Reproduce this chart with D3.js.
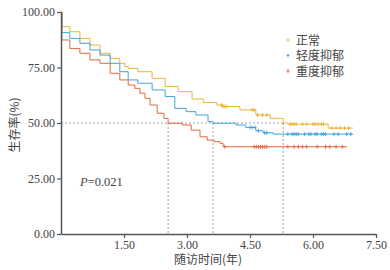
<!DOCTYPE html>
<html>
<head>
<meta charset="utf-8">
<script src="https://cdn.jsdelivr.net/npm/d3@7"></script>
<style>
  body { margin: 0; background: #fff; }
  svg { display: block; }
</style>
</head>
<body>
<svg id="chart" width="390" height="270"></svg>
<script>
// group names (legend order)
const groups = ["正常", "轻度抑郁", "重度抑郁"];
const colors = ["#E9B43C", "#41A2DE", "#E2683E"];

// KM steps: time (years) and survival (%)
const normalT = [0, 0.02, 0.21, 0.45, 0.69, 0.93, 1.17, 1.4, 1.52, 1.6, 1.83, 2.17, 2.48, 2.79, 3.12, 3.39, 3.71, 3.86, 4.26, 4.64, 4.98, 5.29, 5.4, 6.36, 6.95];
const normalS = [100, 93.4, 91.1, 88.1, 85.1, 81.4, 79.1, 76.9, 75.4, 74.6, 73.1, 70.1, 66.4, 64.1, 60.8, 59.2, 58.1, 57.4, 55.9, 53.6, 52.1, 50.0, 49.5, 47.7, 47.7];
const mildT = [0, 0.02, 0.21, 0.45, 0.69, 0.93, 1.17, 1.4, 1.6, 1.83, 2.17, 2.48, 2.71, 2.98, 3.21, 3.5, 3.62, 4.17, 4.4, 4.64, 4.81, 5.05, 6.95];
const mildS = [100, 90.7, 88.1, 85.9, 82.9, 80.6, 76.9, 73.1, 69.4, 67.9, 64.9, 61.9, 56.6, 55.1, 53.6, 50.6, 49.9, 49.1, 48.0, 46.5, 45.6, 45.0, 45.0];
const severeT = [0, 0.02, 0.21, 0.45, 0.69, 0.93, 1.17, 1.4, 1.6, 1.76, 1.88, 2.0, 2.12, 2.29, 2.45, 2.55, 2.88, 3.1, 3.31, 3.48, 3.64, 3.79, 3.86, 6.81];
const severeS = [100, 87.4, 83.6, 81.4, 78.4, 76.9, 72.4, 69.4, 67.1, 65.6, 63.4, 61.1, 58.1, 54.4, 52.1, 49.9, 49.1, 46.8, 43.8, 42.3, 41.6, 40.8, 39.3, 39.3];

// censored times
const normalC = [3.82, 3.86, 3.9, 3.95, 4.55, 4.6, 4.68, 4.8, 4.9, 5.45, 5.5, 5.55, 5.6, 5.75, 5.85, 6.0, 6.05, 6.12, 6.2, 6.25, 6.45, 6.55, 6.65, 6.75, 6.85];
const mildC = [4.5, 4.55, 4.62, 4.7, 4.85, 4.9, 5.4, 5.5, 5.55, 5.6, 5.65, 5.8, 5.9, 5.95, 6.05, 6.1, 6.2, 6.25, 6.3, 6.5, 6.6, 6.8, 6.9];
const severeC = [3.9, 4.6, 4.65, 4.7, 4.75, 4.8, 4.85, 4.9, 5.4, 5.55, 5.65, 5.75, 5.85, 6.1, 6.3, 6.4, 6.55, 6.7];

const medians = [5.29, 3.62, 2.55];

const xTicks = [1.5, 3.0, 4.5, 6.0, 7.5];
const yTicks = [0, 25, 50, 75, 100];

const series = [
  { t: normalT, s: normalS, c: normalC },
  { t: mildT, s: mildS, c: mildC },
  { t: severeT, s: severeS, c: severeC }
];

const svg = d3.select("#chart");
const x = d3.scaleLinear().domain([0, 7.5]).range([61, 376]);
const y = d3.scaleLinear().domain([0, 100]).range([234, 12]);

const serif = "'Liberation Serif', 'DejaVu Serif', serif";
const cjk = "'Noto Sans CJK SC', sans-serif";

// median reference lines
const g50 = svg.append("g").attr("stroke", "#888").attr("stroke-width", 0.8)
  .attr("stroke-dasharray", "2,2").attr("fill", "none");
g50.append("line").attr("x1", x(0)).attr("x2", x(d3.max(medians)))
  .attr("y1", y(50)).attr("y2", y(50));
medians.forEach(m => {
  g50.append("line").attr("x1", x(m)).attr("x2", x(m)).attr("y1", y(50)).attr("y2", y(0));
});

// survival curves
const line = d3.line().x(d => x(d[0])).y(d => y(d[1])).curve(d3.curveStepAfter);
series.forEach((sr, i) => {
  const pts = sr.t.map((t, k) => [t, sr.s[k]]);
  svg.append("path").datum(pts).attr("d", line)
    .attr("fill", "none").attr("stroke", colors[i]).attr("stroke-width", 1);

  // censor marks
  const survAt = t => {
    let v = sr.s[0];
    for (let k = 0; k < sr.t.length; k++) if (sr.t[k] <= t) v = sr.s[k];
    return v;
  };
  svg.append("g").selectAll("path").data(sr.c).join("path")
    .attr("d", t => `M${x(t)},${y(survAt(t)) - 2}v4M${x(t) - 1.5},${y(survAt(t))}h3`)
    .attr("stroke", colors[i]).attr("stroke-width", 0.9);
});

// axes
const yAxis = svg.append("g").attr("transform", `translate(${x(0)},0)`)
  .call(d3.axisLeft(y).tickValues(yTicks).tickFormat(d3.format(".2f")).tickSize(4).tickSizeOuter(0));
const xAxis = svg.append("g").attr("transform", `translate(0,${y(0)})`)
  .call(d3.axisBottom(x).tickValues(xTicks).tickFormat(d3.format(".2f")).tickSize(4).tickSizeOuter(0));
[yAxis, xAxis].forEach(a => {
  a.select(".domain").attr("stroke", "#555").attr("stroke-width", 1.5);
  a.selectAll(".tick line").attr("stroke", "#555").attr("stroke-width", 1.2);
  a.selectAll("text").attr("fill", "#444").style("font-family", serif).style("font-size", "12px");
});
yAxis.selectAll("text").attr("x", -6);
xAxis.selectAll("text").attr("y", 6);

// axis titles
svg.append("text").attr("transform", "translate(19,125) rotate(-90)")
  .attr("text-anchor", "middle").attr("fill", "#444")
  .style("font-family", cjk).style("font-size", "12px").text("生存率(%)");
svg.append("text").attr("x", 208).attr("y", 264).attr("text-anchor", "middle")
  .attr("fill", "#444").style("font-family", cjk).style("font-size", "12px").text("随访时间(年)");

// p value
const pt = svg.append("text").attr("x", 80).attr("y", 186).attr("fill", "#444")
  .style("font-family", serif).style("font-size", "12.5px");
pt.append("tspan").attr("font-style", "italic").text("P");
pt.append("tspan").text("=0.021");

// legend
const lg = svg.append("g");
groups.forEach((name, i) => {
  const yy = 40 + i * 15.5;
  lg.append("path").attr("d", `M288,${yy - 2}v4M286.5,${yy}h3`)
    .attr("stroke", colors[i]).attr("stroke-width", 0.9);
  lg.append("text").attr("x", 296).attr("y", yy + 4.5).attr("fill", "#444")
    .style("font-family", cjk).style("font-size", "12px").text(name);
});
</script>
</body>
</html>
